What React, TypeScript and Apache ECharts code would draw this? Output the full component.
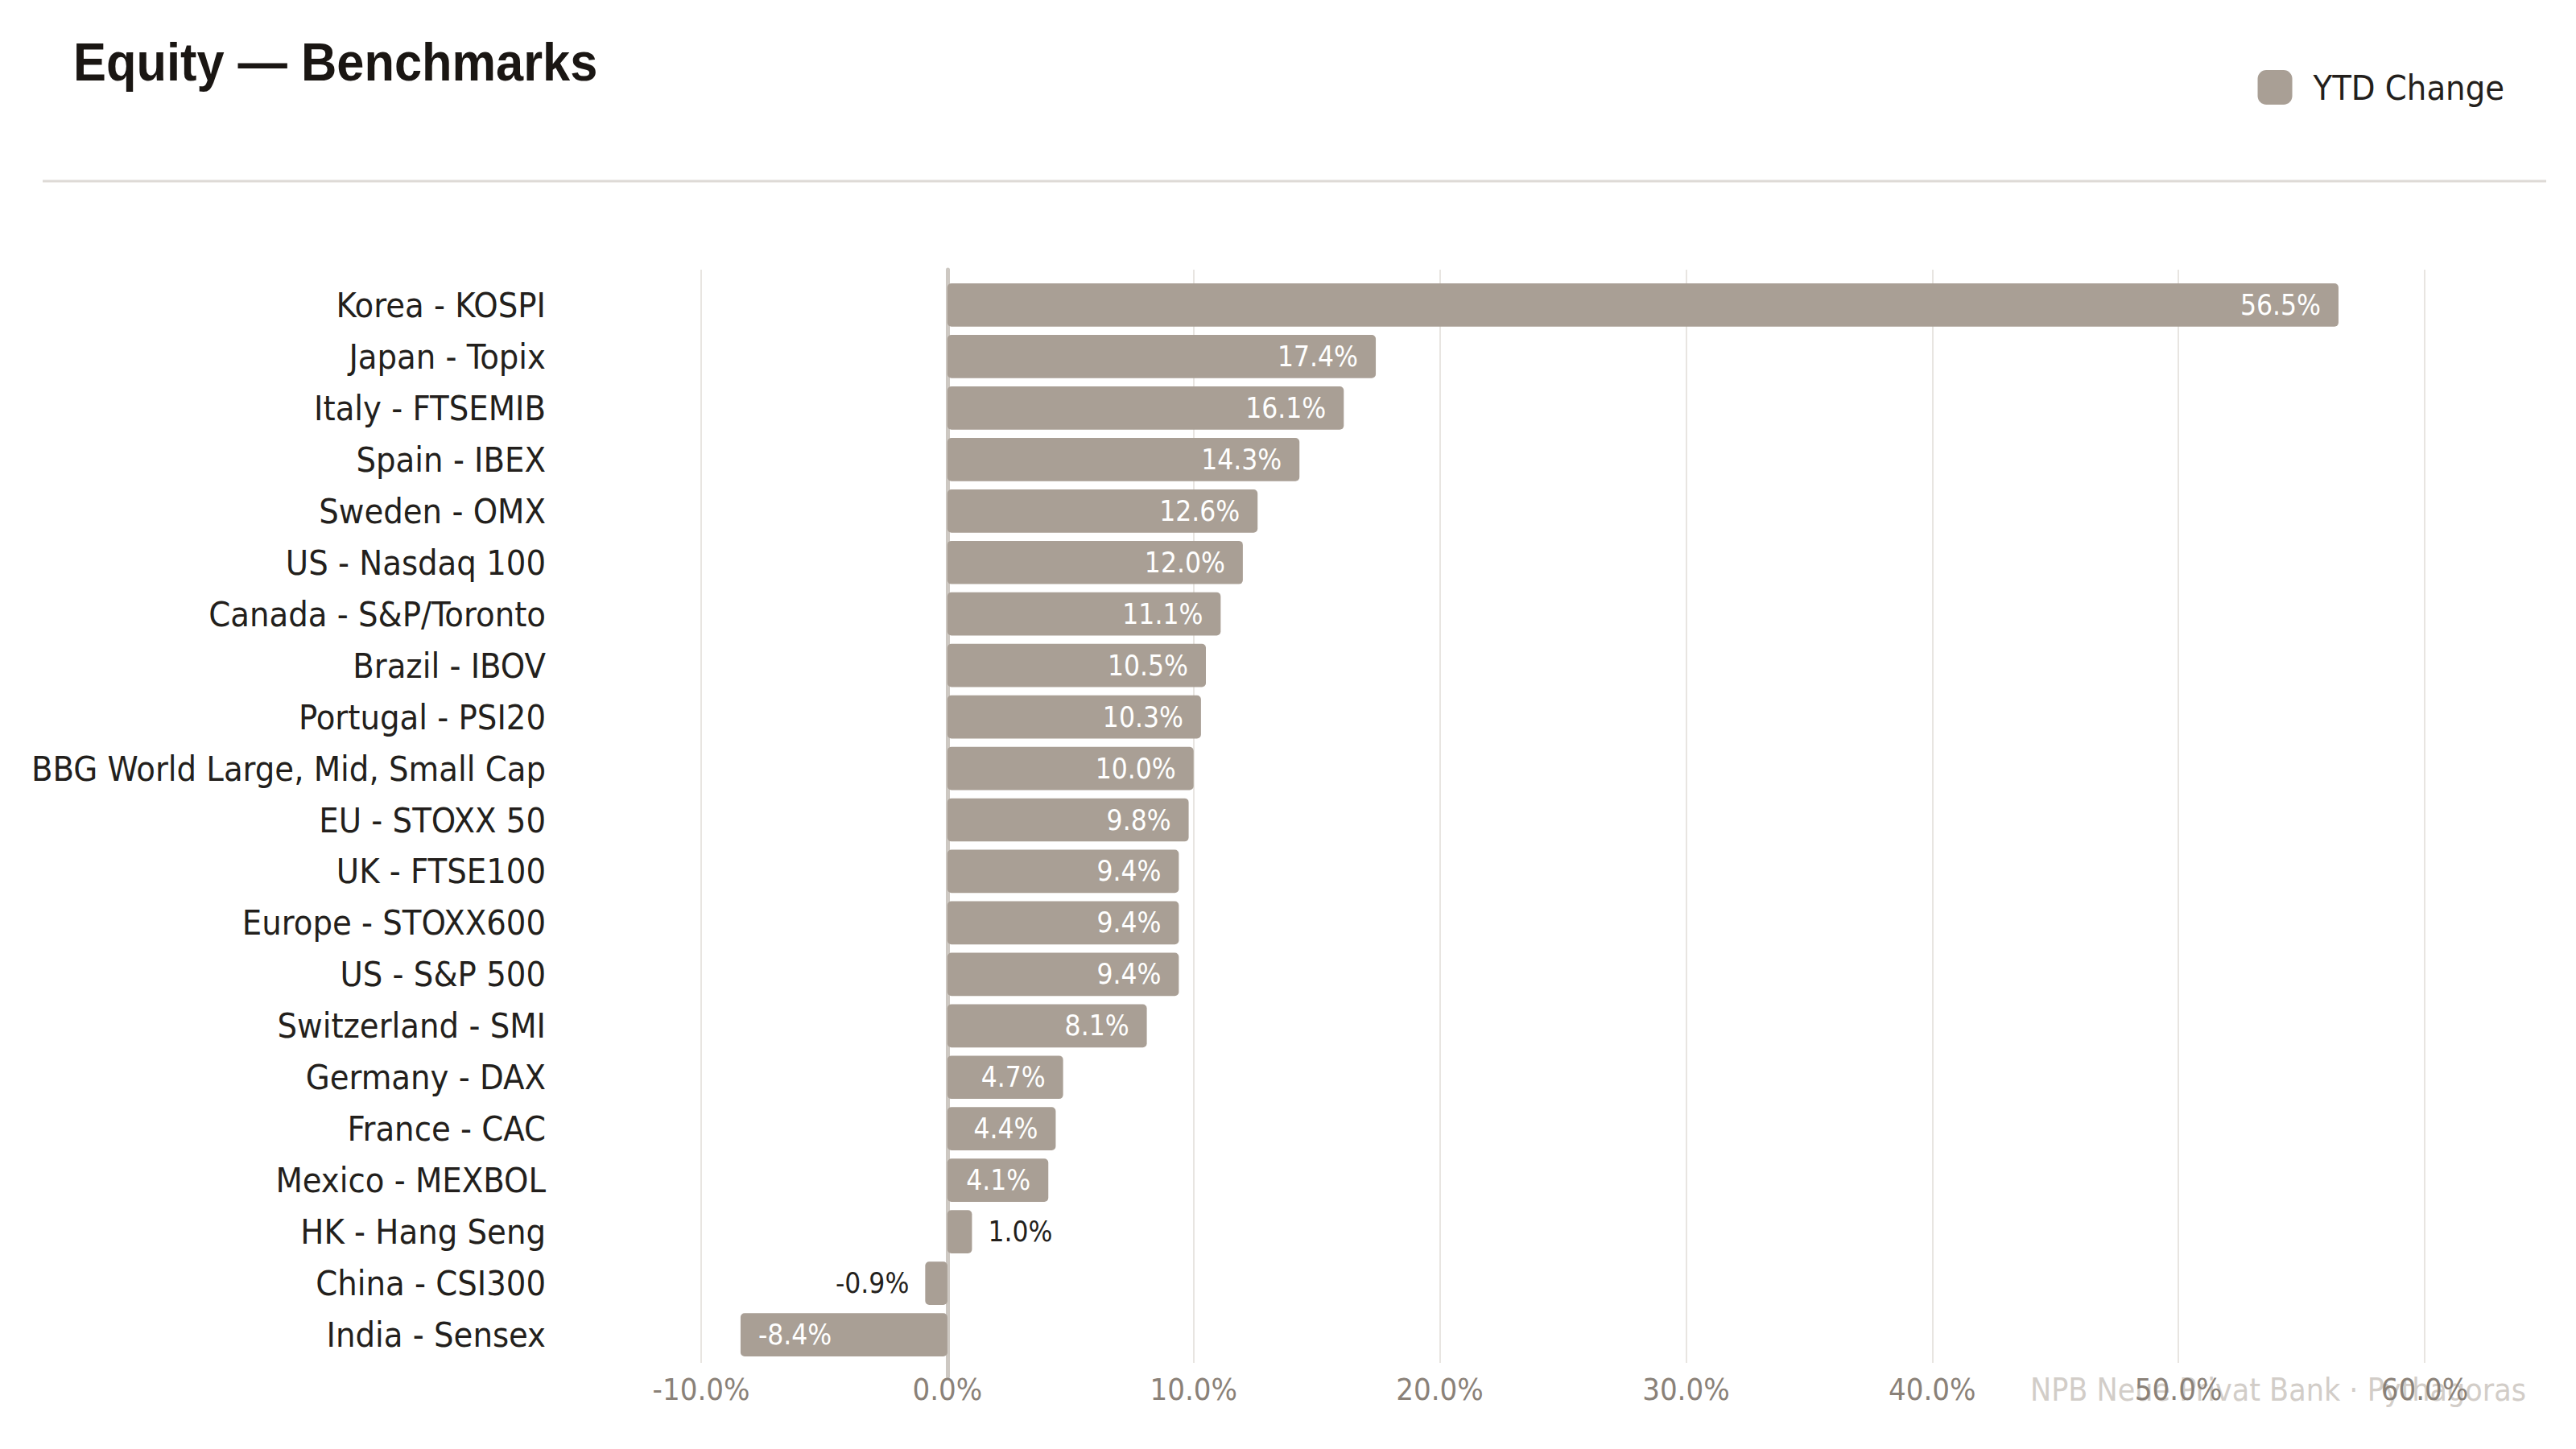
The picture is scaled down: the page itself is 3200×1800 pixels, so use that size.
import React, { useEffect, useRef } from "react";
import * as echarts from "echarts";

const categories = [
  "Korea - KOSPI",
  "Japan - Topix",
  "Italy - FTSEMIB",
  "Spain - IBEX",
  "Sweden - OMX",
  "US - Nasdaq 100",
  "Canada - S&P/Toronto",
  "Brazil - IBOV",
  "Portugal - PSI20",
  "BBG World Large, Mid, Small Cap",
  "EU - STOXX 50",
  "UK - FTSE100",
  "Europe - STOXX600",
  "US - S&P 500",
  "Switzerland - SMI",
  "Germany - DAX",
  "France - CAC",
  "Mexico - MEXBOL",
  "HK - Hang Seng",
  "China - CSI300",
  "India - Sensex",
];

const ytdChange = [
  56.5, 17.4, 16.1, 14.3, 12.6, 12.0, 11.1, 10.5, 10.3, 10.0, 9.8, 9.4, 9.4,
  9.4, 8.1, 4.7, 4.4, 4.1, 1.0, -0.9, -8.4,
];

const seriesName = "YTD Change";
const titleText = "Equity — Benchmarks";
const sourceText = "NPB Neue Privat Bank · Pythagoras";

const axisMin = -10;
const axisMax = 60;
const axisStep = 10;

const FONT =
  '"Liberation Sans Narrow", "Arial Narrow", "DejaVu Sans Condensed", "Roboto", sans-serif';
const TITLE_FONT = '"Liberation Sans", Arial, sans-serif';

const BAR = "#a99f95";
const DARK = "#231f1c";

export default function App() {
  const ref = useRef<HTMLDivElement>(null);

  useEffect(() => {
    const chart = echarts.init(ref.current!, null, { renderer: "svg" });
    const gridLeft = 871;
    const gridRight = 188;
    const pct = (v: number) => v.toFixed(1) + "%";

    const labelFor = (v: number) => {
      if (Math.abs(v) < 3) {
        return {
          position: v >= 0 ? "right" : "left",
          color: DARK,
          distance: 20,
        };
      }
      return {
        position: v >= 0 ? "insideRight" : "insideLeft",
        color: "#ffffff",
        distance: 22,
      };
    };

    chart.setOption({
      animation: false,
      backgroundColor: "#ffffff",
      textStyle: { fontFamily: FONT },
      legend: {
        data: [seriesName],
        right: 84,
        top: 82,
        icon: "roundRect",
        itemWidth: 43,
        itemHeight: 43,
        textStyle: {
          fontFamily: FONT,
          fontSize: 43,
          color: DARK,
          padding: [0, 0, 0, 21],
        },
      },
      grid: [
        { left: gridLeft, right: gridRight, top: 335, height: 1358 },
        { left: gridLeft, right: gridRight, top: 335, height: 1375 },
        { left: gridLeft, right: gridRight, top: 347, height: 1343 },
      ],
      xAxis: [
        {
          gridIndex: 0,
          type: "value",
          min: axisMin,
          max: axisMax,
          interval: axisStep,
          axisLine: { show: false, onZero: false },
          axisTick: { show: false },
          splitLine: { show: true, lineStyle: { color: "#e8e5e1", width: 2 } },
          axisLabel: {
            formatter: (v: number) => pct(v),
            fontFamily: FONT,
            fontSize: 38,
            color: "#8a8178",
            margin: 14,
          },
        },
        {
          gridIndex: 1,
          type: "value",
          min: axisMin,
          max: axisMax,
          interval: axisStep,
          axisLine: { show: false, onZero: false },
          axisTick: { show: false },
          axisLabel: { show: false },
          splitLine: { show: false },
        },
        {
          gridIndex: 2,
          type: "value",
          min: axisMin,
          max: axisMax,
          interval: axisStep,
          axisLine: { show: false, onZero: false },
          axisTick: { show: false },
          axisLabel: { show: false },
          splitLine: { show: false },
        },
      ],
      yAxis: [
        {
          gridIndex: 0,
          type: "value",
          min: 0,
          max: 1,
          show: false,
        },
        {
          gridIndex: 1,
          type: "value",
          min: 0,
          max: 1,
          axisLine: {
            show: true,
            onZero: true,
            lineStyle: { color: "#cdc8c2", width: 5 },
          },
          axisTick: { show: false },
          axisLabel: { show: false },
          splitLine: { show: false },
        },
        {
          gridIndex: 2,
          type: "category",
          data: categories,
          inverse: true,
          axisLine: { show: false, onZero: false },
          axisTick: { show: false },
          splitLine: { show: false },
          axisLabel: {
            fontFamily: FONT,
            fontSize: 43,
            color: DARK,
            margin: 193,
          },
        },
      ],
      series: [
        {
          name: seriesName,
          type: "bar",
          xAxisIndex: 2,
          yAxisIndex: 2,
          barCategoryGap: "16%",
          itemStyle: { color: BAR, borderRadius: 5 },
          label: {
            show: true,
            fontFamily: FONT,
            fontSize: 35,
            formatter: (p: any) => pct(p.value),
          },
          data: ytdChange.map((v) => ({ value: v, label: labelFor(v) })),
        },
      ],
      graphic: [
        {
          type: "text",
          x: 91,
          y: 77,
          scaleX: 0.93,
          style: {
            text: titleText,
            align: "left",
            verticalAlign: "middle",
            fontFamily: TITLE_FONT,
            fontWeight: "bold",
            fontSize: 66,
            fill: "#1a1613",
          },
          silent: true,
        },
        {
          type: "line",
          shape: { x1: 53, y1: 225, x2: 3163, y2: 225 },
          style: { stroke: "#dedad6", lineWidth: 3 },
          silent: true,
        },
        {
          type: "text",
          x: 3138,
          y: 1726,
          z: -1,
          style: {
            text: sourceText,
            align: "right",
            verticalAlign: "middle",
            fontFamily: FONT,
            fontSize: 39,
            fill: "#d2cdc8",
          },
          silent: true,
        },
      ],
    });

    return () => chart.dispose();
  }, []);

  return (
    <div
      ref={ref}
      style={{
        position: "fixed",
        left: 0,
        top: 0,
        width: "3200px",
        height: "1800px",
      }}
    />
  );
}
